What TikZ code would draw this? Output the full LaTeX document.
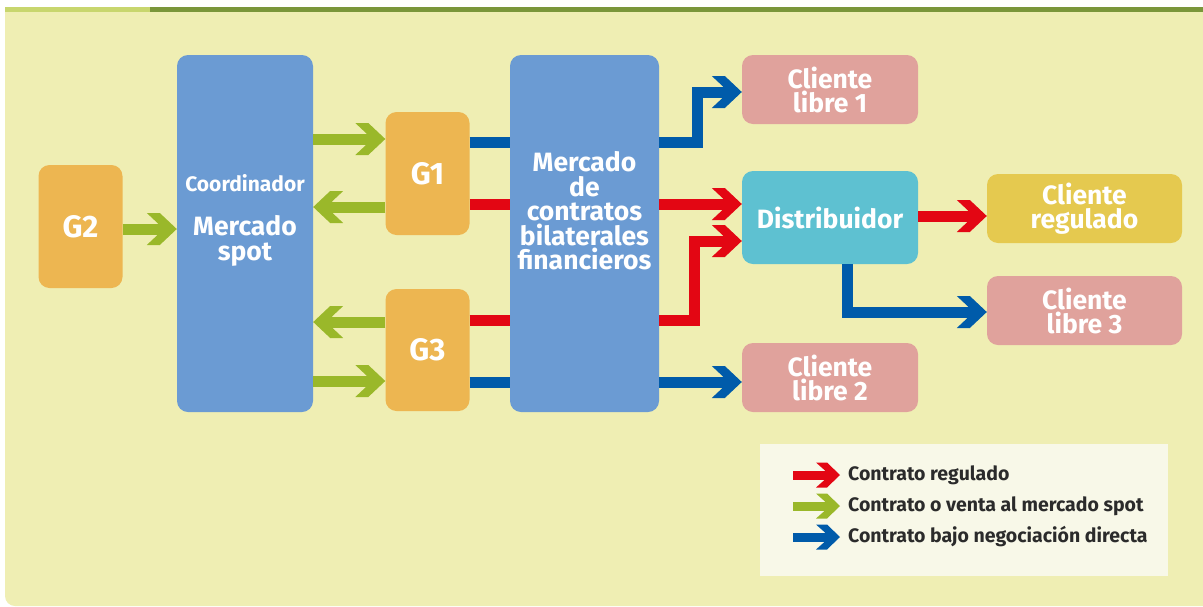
\documentclass[tikz,border=0pt]{standalone}
\usepackage{fontspec}
\setmainfont{Fira Sans}
\usetikzlibrary{arrows.meta}

\definecolor{bgc}{HTML}{EFEEB3}
\definecolor{barlight}{HTML}{C8D66E}
\definecolor{bardark}{HTML}{7A963A}
\definecolor{gorange}{HTML}{EDB651}
\definecolor{bblock}{HTML}{6B9BD3}
\definecolor{cpink}{HTML}{E0A29C}
\definecolor{ccyan}{HTML}{5EC1D1}
\definecolor{cyel}{HTML}{E5C94F}
\definecolor{legbg}{HTML}{F8F8E8}
\definecolor{agreen}{HTML}{9AB82A}
\definecolor{ared}{HTML}{E30613}
\definecolor{ablue}{HTML}{005BAA}
\definecolor{legtxt}{HTML}{2B2B2B}

\pgfdeclarearrow{
  name = BigChev,
  setup code = {
    \pgfarrowssettipend{0pt}
    \pgfarrowssetlineend{-15pt}
    \pgfarrowssetbackend{-30pt}
    \pgfarrowssetvisualbackend{-30pt}
    \pgfarrowshullpoint{0pt}{0pt}
    \pgfarrowsupperhullpoint{-30pt}{16pt}
  },
  drawing code = {
    \pgfpathmoveto{\pgfqpoint{0pt}{0pt}}
    \pgfpathlineto{\pgfqpoint{-17pt}{16pt}}
    \pgfpathlineto{\pgfqpoint{-30pt}{16pt}}
    \pgfpathlineto{\pgfqpoint{-18.8pt}{5.5pt}}
    \pgfpathlineto{\pgfqpoint{-18.8pt}{-5.5pt}}
    \pgfpathlineto{\pgfqpoint{-30pt}{-16pt}}
    \pgfpathlineto{\pgfqpoint{-17pt}{-16pt}}
    \pgfpathclose
    \pgfusepathqfill
  }
}
\pgfdeclarearrow{
  name = SmallChev,
  setup code = {
    \pgfarrowssettipend{0pt}
    \pgfarrowssetlineend{-12pt}
    \pgfarrowssetbackend{-24pt}
    \pgfarrowssetvisualbackend{-24pt}
    \pgfarrowshullpoint{0pt}{0pt}
    \pgfarrowsupperhullpoint{-24pt}{12.5pt}
  },
  drawing code = {
    \pgfpathmoveto{\pgfqpoint{0pt}{0pt}}
    \pgfpathlineto{\pgfqpoint{-13pt}{12.5pt}}
    \pgfpathlineto{\pgfqpoint{-24pt}{12.5pt}}
    \pgfpathlineto{\pgfqpoint{-15pt}{4.5pt}}
    \pgfpathlineto{\pgfqpoint{-15pt}{-4.5pt}}
    \pgfpathlineto{\pgfqpoint{-24pt}{-12.5pt}}
    \pgfpathlineto{\pgfqpoint{-13pt}{-12.5pt}}
    \pgfpathclose
    \pgfusepathqfill
  }
}

\tikzset{
  box/.style={rounded corners=11pt, inner sep=0pt, text=white, align=center},
  gbox/.style={box, fill=gorange, minimum width=84pt, minimum height=123pt,
    font=\bfseries\fontsize{31}{32}\selectfont},
  bigbox/.style={box, fill=bblock, minimum height=357pt},
  cbox/.style={box, minimum height=69pt, font=\bfseries\fontsize{26.5}{24}\selectfont},
  txt/.style={text=white, align=center, inner sep=0pt, font=\bfseries\fontsize{26.5}{24.5}\selectfont},
  arr/.style={line width=11pt, -{BigChev}},
  garr/.style={arr, draw=agreen},
  rarr/.style={arr, draw=ared},
  barr/.style={arr, draw=ablue},
  rline/.style={line width=11pt, draw=ared},
  bline/.style={line width=11pt, draw=ablue},
  larr/.style={line width=9pt, -{SmallChev}},
  legtext/.style={anchor=west, inner sep=0pt, text=legtxt, font=\bfseries\fontsize{19.5}{20}\selectfont}
}

\begin{document}
\begin{tikzpicture}[x=1pt, y=-1pt]
\useasboundingbox (0,0) rectangle (1203,606);
% background
\fill[white] (0,0) rectangle (1203,606);
\fill[bgc, rounded corners=10pt] (5,12) rectangle (1230,606);
\fill[bgc] (5,12) rectangle (40,40);
\fill[barlight] (5,7) rectangle (150,12);
\fill[bardark] (150,7) rectangle (1203,12);

% nodes
\node[gbox] (g2) at (80.5,226.5) {G2};
\node[bigbox, minimum width=136pt] (coord) at (245,233.5) {};
\node[txt] (coordtxt) at (245,220) {{\fontsize{21}{22}\selectfont Coordinador}\\[20pt]Mercado\\spot};
\node[gbox] (g1) at (427.5,173.5) {G1};
\node[gbox, minimum height=122pt] (g3) at (427.5,350) {G3};
\node[bigbox, minimum width=149pt] (merc) at (584.5,233.5) {};
\node[txt] (merctxt) at (584.5,211) {Mercado\\de\\contratos\\bilaterales\\financieros};
\node[cbox, fill=cpink, minimum width=176pt] (c1) at (830,89.5) {Cliente\\libre 1};
\node[cbox, fill=ccyan, minimum width=176pt, minimum height=93pt] (dist) at (830,217.5) {Distribuidor};
\node[cbox, fill=cpink, minimum width=176pt] (c2) at (830,377.5) {Cliente\\libre 2};
\node[cbox, fill=cyel, minimum width=195pt] (creg) at (1084.5,208.5) {Cliente\\regulado};
\node[cbox, fill=cpink, minimum width=195pt] (c3) at (1084.5,310.5) {Cliente\\libre 3};

% connectors
\draw[garr] (g2.east |- 0,229) -- (coord.west |- 0,229);
\draw[garr] (coord.east |- 0,139) -- (g1.west |- 0,139);
\draw[garr] (g1.west |- 0,207) -- (coord.east |- 0,207);
\draw[garr] (g3.west |- 0,322) -- (coord.east |- 0,322);
\draw[garr] (coord.east |- 0,381) -- (g3.west |- 0,381);
\draw[bline] (g1.east |- 0,142) -- (merc.west |- 0,142);
\draw[rline] (g1.east |- 0,204.5) -- (merc.west |- 0,204.5);
\draw[rline] (g3.east |- 0,320) -- (merc.west |- 0,320);
\draw[bline] (g3.east |- 0,382) -- (merc.west |- 0,382);
\draw[barr] (merc.east |- 0,142) -- ++(38,0) |- (c1.west |- 0,92);
\draw[rarr] (merc.east |- 0,204) -- (dist.west |- 0,204);
\draw[rarr] (merc.east |- 0,320) -- ++(35,0) |- (dist.west |- 0,241);
\draw[barr] (merc.east |- 0,382) -- (c2.west |- 0,382);
\draw[rarr] (dist.east |- 0,216) -- (creg.west |- 0,216);
\draw[barr] (dist.south -| 847.5,0) |- (c3.west |- 0,312);

% legend
\fill[legbg] (760,444) rectangle (1168,576);
\node[legtext] (l1) at (848,475) {Contrato regulado};
\node[legtext] (l2) at (848,506) {Contrato o venta al mercado spot};
\node[legtext] (l3) at (848,537) {Contrato bajo negociación directa};
\coordinate (l1a) at (793,475);
\coordinate (l2a) at (793,506);
\coordinate (l3a) at (793,537);
\coordinate (l1b) at (840,475);
\coordinate (l2b) at (840,506);
\coordinate (l3b) at (840,537);
\draw[larr, draw=ared] (l1a) -- (l1b);
\draw[larr, draw=agreen] (l2a) -- (l2b);
\draw[larr, draw=ablue] (l3a) -- (l3b);
\end{tikzpicture}
\end{document}
